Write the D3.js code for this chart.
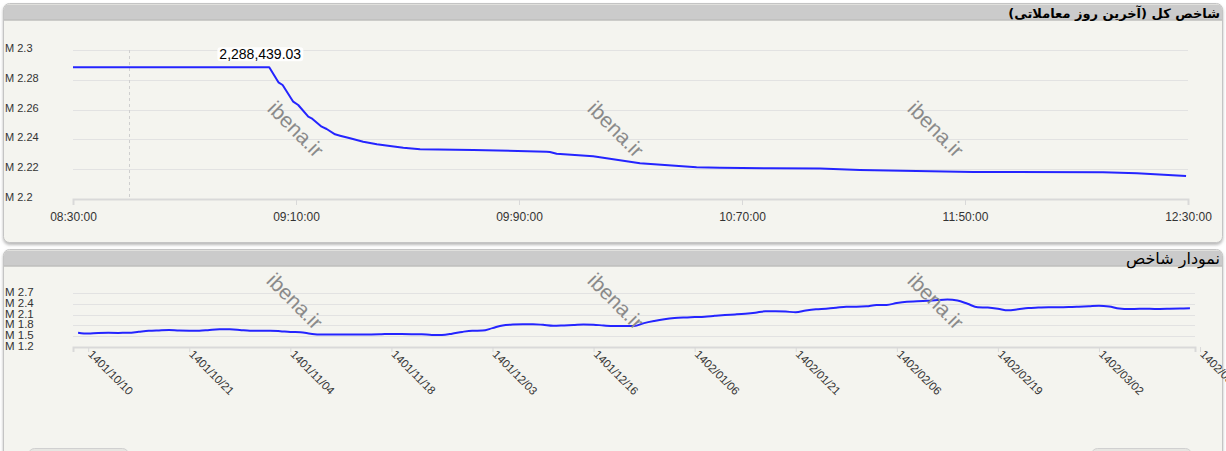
<!DOCTYPE html>
<html>
<head>
<meta charset="utf-8">
<script src="https://cdn.jsdelivr.net/npm/d3@7"></script>
<style>
  html, body { margin: 0; padding: 0; background: #ffffff; }
  svg { display: block; }
</style>
</head>
<body>
<svg id="chart" width="1226" height="451"></svg>
<script>
// ---------------- DATA ----------------
const topTitle = "شاخص کل (آخرین روز معاملاتی)";
const bottomTitle = "نمودار شاخص";
const watermark = "ibena.ir";

// intraday index (time as HHMM number, value in millions)
const intradayTime = [830, 900.4, 903.7, 905.2, 909.0, 910.8, 914.4, 915.6, 919.2, 921.0, 924.0, 925.8, 929.4, 934.1, 939.0, 943.7, 948.5, 954.5, 973.6, 999.9, 1001.1, 1003.5, 1016.6, 1033.4, 1053.7, 1062.1, 1080.0, 1098.0, 1112.3, 1152.9, 1199.5, 1211.7, 1229.3];
const intradayValue = [2.288439, 2.288439, 2.27832, 2.27651, 2.26530, 2.26309, 2.25523, 2.25416, 2.24852, 2.24698, 2.24342, 2.24248, 2.24074, 2.23846, 2.23671, 2.23557, 2.23443, 2.23336, 2.23289, 2.23174, 2.23154, 2.23040, 2.22866, 2.22396, 2.22128, 2.22101, 2.22060, 2.22047, 2.21946, 2.21812, 2.21792, 2.21725, 2.21544];
const intradayTicks = [830, 910, 990, 1070, 1150, 1230];
const intradayYTicks = [2.2, 2.22, 2.24, 2.26, 2.28, 2.3];
const intradayYLabels = ["M 2.2", "M 2.22", "M 2.24", "M 2.26", "M 2.28", "M 2.3"];
const intradayYDomain = [2.2, 2.3];
const peakLabel = "2,288,439.03";
const crosshairTime = 850;

// daily index history (values in millions), one per trading day
const dailyValue = [1.593, 1.568, 1.588, 1.590, 1.588, 1.590, 1.619, 1.647, 1.658, 1.666, 1.652, 1.649, 1.649, 1.672, 1.689, 1.689, 1.672, 1.649, 1.649, 1.649, 1.635, 1.613, 1.607, 1.565, 1.540, 1.546, 1.546, 1.540, 1.540, 1.546, 1.551, 1.557, 1.554, 1.551, 1.548, 1.531, 1.531, 1.565, 1.616, 1.649, 1.652, 1.722, 1.798, 1.821, 1.832, 1.832, 1.815, 1.790, 1.798, 1.810, 1.826, 1.818, 1.796, 1.781, 1.781, 1.781, 1.863, 1.922, 1.970, 2.003, 2.020, 2.031, 2.043, 2.068, 2.090, 2.107, 2.127, 2.155, 2.194, 2.194, 2.186, 2.169, 2.217, 2.251, 2.267, 2.293, 2.324, 2.324, 2.335, 2.371, 2.371, 2.428, 2.464, 2.475, 2.489, 2.509, 2.523, 2.495, 2.405, 2.307, 2.298, 2.267, 2.222, 2.253, 2.287, 2.298, 2.307, 2.307, 2.312, 2.324, 2.338, 2.352, 2.329, 2.273, 2.256, 2.265, 2.265, 2.259, 2.265, 2.273, 2.279];
const dailyTickIndex = [1, 11, 21, 31, 41, 51, 61, 71, 81, 91, 101, 111];
const dailyTickLabels = ["1401/10/10", "1401/10/21", "1401/11/04", "1401/11/18", "1401/12/03", "1401/12/16", "1402/01/06", "1402/01/21", "1402/02/06", "1402/02/19", "1402/03/02", "1402/03/16"];
const dailyYTicks = [1.2, 1.5, 1.8, 2.1, 2.4, 2.7];
const dailyYLabels = ["M 1.2", "M 1.5", "M 1.8", "M 2.1", "M 2.4", "M 2.7"];
const dailyYDomain = [1.2, 2.7];

// ---------------- DRAW ----------------
const svg = d3.select("#chart");
const LINE = "#2424ff";
const GRID = "#e2e2e2";
const AXIS = "#d9d9d9";
const TXT = "#333333";
const FONT = "'Liberation Sans', Arial, sans-serif";

const defs = svg.append("defs");
const f = defs.append("filter").attr("id", "sh").attr("x", "-2%").attr("y", "-5%").attr("width", "104%").attr("height", "115%");
f.append("feDropShadow").attr("dx", 0).attr("dy", 2).attr("stdDeviation", 1.6).attr("flood-color", "#888").attr("flood-opacity", 0.6);

function panel(y0, h, title, bold, size) {
  const g = svg.append("g");
  g.append("rect").attr("x", 3.5).attr("y", y0 + 0.5).attr("width", 1219).attr("height", h)
    .attr("rx", 6).attr("fill", "#f4f4ef").attr("stroke", "#c4c4c4").attr("filter", "url(#sh)");
  const x0 = 4, x1 = 1222, r = 5, hy0 = y0 + 1.5, hy1 = y0 + 16.5;
  g.append("path")
    .attr("d", `M${x0},${hy1} L${x0},${hy0 + r} Q${x0},${hy0} ${x0 + r},${hy0} L${x1 - r},${hy0} Q${x1},${hy0} ${x1},${hy0 + r} L${x1},${hy1} Z`)
    .attr("fill", "#cbcbcb");
  g.append("line").attr("x1", x0).attr("x2", x1).attr("y1", hy1 + 0.5).attr("y2", hy1 + 0.5)
    .attr("stroke", "#a3a3a3").attr("stroke-width", 1);
  g.append("text").attr("x", 1220).attr("y", y0 + 14.5)
    .attr("direction", "rtl").attr("text-anchor", "start")
    .attr("font-family", "Tahoma, 'DejaVu Sans', sans-serif").attr("font-size", size)
    .attr("font-weight", bold ? "bold" : "normal").attr("fill", "#000")
    .text(title);
  return g;
}

panel(3, 239, topTitle, true, 13);
panel(249, 230, bottomTitle, false, 16);

// small rounded buttons peeking at the bottom
[[28, 100], [1091, 100]].forEach(([bx, bw]) => {
  svg.append("rect").attr("x", bx + 0.5).attr("y", 448.5).attr("width", bw).attr("height", 12).attr("rx", 6)
    .attr("fill", "#e6e6e2").attr("stroke", "#d0d0d0");
});

// ---------- top chart ----------
const xT = d3.scaleLinear().domain([intradayTicks[0], intradayTicks[intradayTicks.length - 1]]).range([73, 1188]);
const yT = d3.scaleLinear().domain(intradayYDomain).range([199, 50]);
const fmtTime = d => { const s = String(d).padStart(4, "0"); return s.slice(0, 2) + ":" + s.slice(2) + ":00"; };

const gt = svg.append("g");
gt.selectAll("line.grid").data(intradayYTicks.slice(1)).join("line")
  .attr("x1", xT.range()[0]).attr("x2", xT.range()[1])
  .attr("y1", d => Math.round(yT(d)) + 0.5).attr("y2", d => Math.round(yT(d)) + 0.5)
  .attr("stroke", GRID).attr("stroke-width", 1);

gt.append("line").attr("x1", Math.round(xT(crosshairTime)) + 0.5).attr("x2", Math.round(xT(crosshairTime)) + 0.5)
  .attr("y1", yT(intradayYDomain[1])).attr("y2", yT(intradayYDomain[0]))
  .attr("stroke", "#cfcfcf").attr("stroke-dasharray", "3,3");

const xAxisT = d3.axisBottom(xT).tickValues(intradayTicks).tickFormat(fmtTime).tickSize(6).tickPadding(7);
const axT = gt.append("g").attr("transform", `translate(0,${yT(intradayYDomain[0])})`).call(xAxisT);
axT.select(".domain").attr("stroke", AXIS).attr("stroke-width", 2);
axT.selectAll(".tick line").attr("stroke", AXIS);
axT.selectAll(".tick text").attr("fill", TXT).attr("font-size", 12).attr("font-family", FONT);

gt.selectAll("text.ylab").data(intradayYTicks).join("text")
  .attr("x", 5).attr("y", d => yT(d) + 2)
  .attr("font-size", 11).attr("font-family", FONT).attr("fill", TXT)
  .text((d, i) => intradayYLabels[i]);

const intraday = intradayTime.map((t, i) => ({ t, v: intradayValue[i] }));
gt.append("path").datum(intraday)
  .attr("d", d3.line().x(d => xT(d.t)).y(d => yT(d.v)))
  .attr("fill", "none").attr("stroke", LINE).attr("stroke-width", 2).attr("stroke-linejoin", "round");

const peak = intraday[1];
const lab = gt.append("g");
const lt = lab.append("text").attr("x", xT(peak.t) - 9).attr("y", yT(peak.v) - 8)
  .attr("text-anchor", "middle").attr("font-size", 14).attr("font-family", FONT).attr("fill", "#000")
  .text(peakLabel);
const bb = lt.node().getBBox();
lab.insert("rect", "text").attr("x", bb.x - 2).attr("y", bb.y + 1).attr("width", bb.width + 4).attr("height", bb.height - 2)
  .attr("rx", 3).attr("fill", "#ffffff").attr("opacity", 0.9);

// ---------- bottom chart ----------
const xB = d3.scaleLinear().domain([-0.5, dailyValue.length - 0.5]).range([73, 1195]);
const yB = d3.scaleLinear().domain(dailyYDomain).range([346.7, 293.3]);
const gb = svg.append("g");
gb.selectAll("line.grid").data(dailyYTicks.slice(1)).join("line")
  .attr("x1", xB.range()[0]).attr("x2", xB.range()[1])
  .attr("y1", d => Math.round(yB(d)) + 0.5).attr("y2", d => Math.round(yB(d)) + 0.5)
  .attr("stroke", GRID).attr("stroke-width", 1);

const xAxisB = d3.axisBottom(xB).tickValues(dailyTickIndex).tickFormat((d, i) => dailyTickLabels[i]).tickSize(5).tickPadding(3);
const axB = gb.append("g").attr("transform", `translate(0,${Math.round(yB(dailyYDomain[0]))})`).call(xAxisB);
axB.select(".domain").attr("stroke", AXIS).attr("stroke-width", 2);
axB.selectAll(".tick line").attr("stroke", AXIS);
axB.selectAll(".tick text")
  .attr("fill", TXT).attr("font-size", 11.5).attr("font-family", FONT)
  .attr("text-anchor", "start").attr("y", 0).attr("dy", 0)
  .attr("transform", "translate(1,6) rotate(45) translate(0,3)");

gb.selectAll("text.ylab").data(dailyYTicks).join("text")
  .attr("x", 5).attr("y", d => yB(d) + 3)
  .attr("font-size", 11.5).attr("font-family", FONT).attr("fill", TXT)
  .text((d, i) => dailyYLabels[i]);

gb.append("path").datum(dailyValue)
  .attr("d", d3.line().x((d, i) => xB(i)).y(d => yB(d)).curve(d3.curveMonotoneX))
  .attr("fill", "none").attr("stroke", LINE).attr("stroke-width", 2).attr("stroke-linejoin", "round");

// ---------- watermarks ----------
const wm = [[296, 129], [616, 129], [936, 129], [295, 301], [616, 301], [936, 301]];
svg.selectAll("text.wm").data(wm).join("text")
  .attr("transform", d => `translate(${d[0]},${d[1]}) rotate(45)`)
  .attr("text-anchor", "middle").attr("dominant-baseline", "central")
  .attr("font-size", 21).attr("font-family", FONT).attr("fill", "#8a8a8a")
  .text(watermark);
</script>
</body>
</html>
